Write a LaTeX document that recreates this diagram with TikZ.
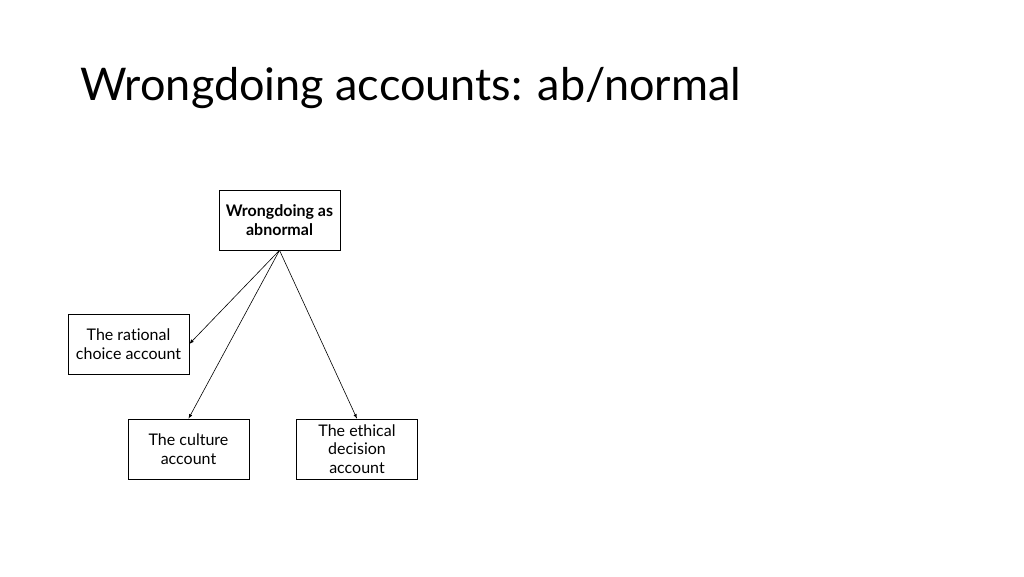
\documentclass[tikz,border=0pt]{standalone}
\usepackage{fontspec}
\setmainfont[Ligatures={NoCommon,NoRequired,NoContextual}]{Lato}
\begin{document}
\begin{tikzpicture}[x=1pt,y=-1pt,
  bx/.style={draw,line width=0.6pt,minimum width=121pt,minimum height=60pt,align=center,font=\fontsize{16}{18.5}\selectfont,inner sep=2pt},
  arr/.style={-latex,line width=0.6pt}]
\useasboundingbox (0,0) rectangle (1024,576);
\node[anchor=base west,font=\fontsize{45}{50}\selectfont,inner sep=0pt] (title) at (80,100) {Wrongdoing accounts: ab/normal};
\node[bx] (top) at (279.5,220) {\textbf{Wrongdoing as}\\\textbf{abnormal}};
\node[bx] (rat) at (128.5,344) {The rational\\choice account};
\node[bx] (cul) at (188.5,449) {The culture\\account};
\node[bx] (eth) at (357,449) {The ethical\\decision\\account};
\coordinate (src) at (top.south);
\draw[arr] (src) -- (rat.east);
\draw[arr] (src) -- (cul.north);
\draw[arr] (src) -- (eth.north);
\end{tikzpicture}
\end{document}
